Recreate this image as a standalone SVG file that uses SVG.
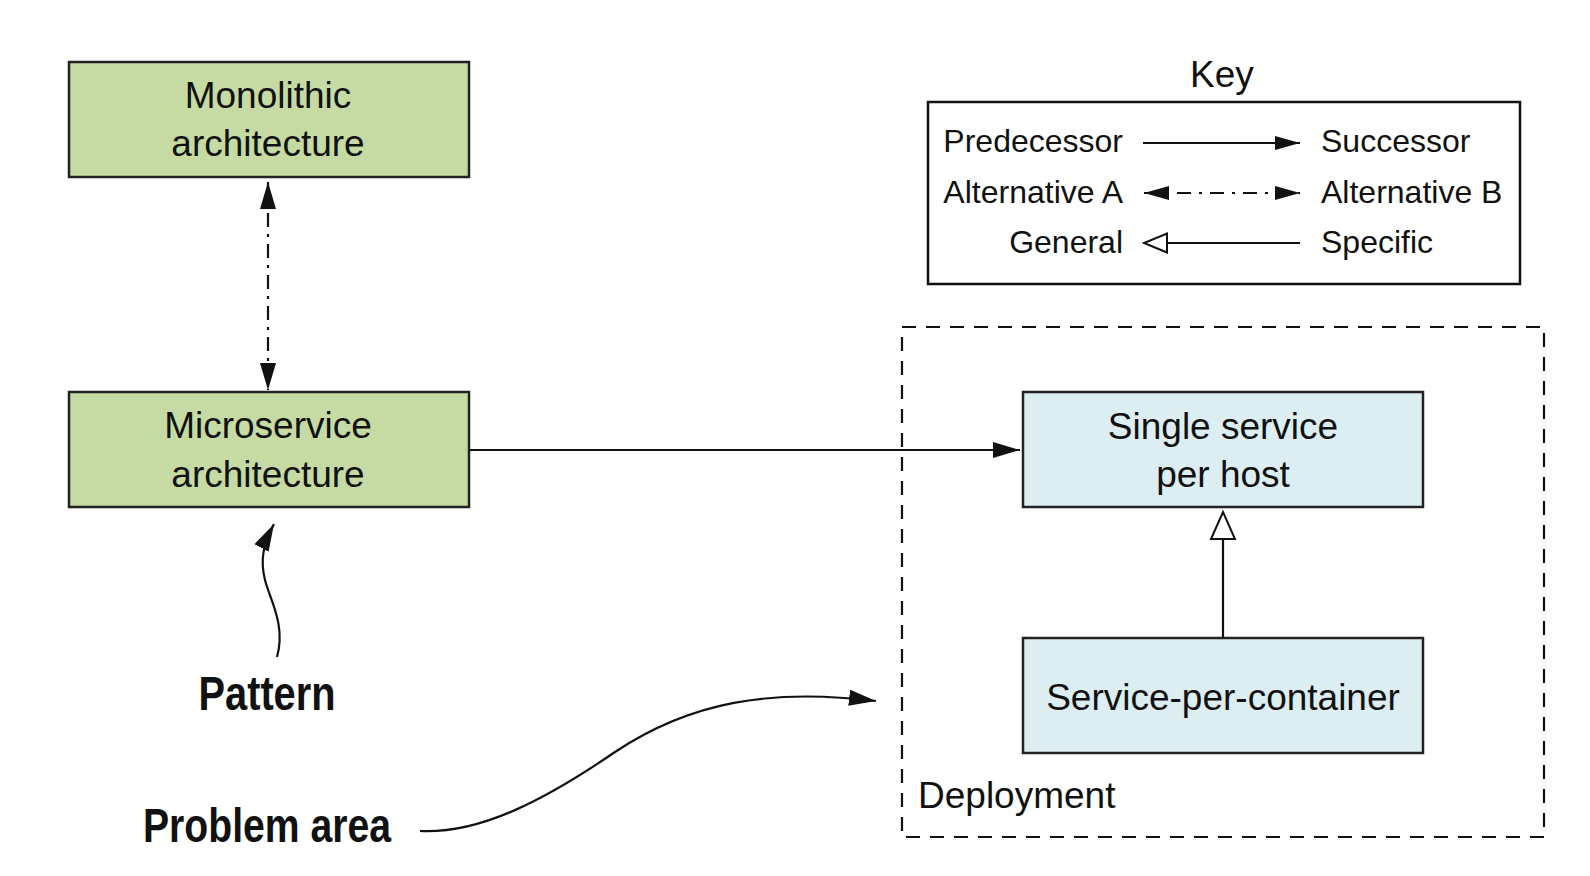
<svg xmlns="http://www.w3.org/2000/svg" width="1590" height="876" viewBox="0 0 1590 876">
<style>
.node{stroke:#222;stroke-width:2.5}
.green{fill:#c5dba3}
.blue{fill:#ddeef2}
.t{font-family:"Liberation Sans",Arial,sans-serif;font-size:37px;fill:#111;text-anchor:middle}
.k{font-family:"Liberation Sans",Arial,sans-serif;font-size:32px;fill:#111}
.lbl{font-family:"Liberation Sans",Arial,sans-serif;font-weight:bold;font-size:48px;fill:#111}
.ln{fill:none;stroke:#111;stroke-width:2.2}
.dd{stroke-dasharray:14 7 3 7}
</style>
<defs>
<marker id="fa" markerUnits="userSpaceOnUse" markerWidth="28" markerHeight="18" refX="27" refY="8" orient="auto-start-reverse" viewBox="0 0 28 16">
<path d="M0,0 L27,8 L0,16 z" fill="#111"/>
</marker>
<marker id="fs" markerUnits="userSpaceOnUse" markerWidth="26" markerHeight="16" refX="25" refY="7" orient="auto-start-reverse" viewBox="0 0 26 14">
<path d="M0,0 L25,7 L0,14 z" fill="#111"/>
</marker>
<marker id="ha" markerUnits="userSpaceOnUse" markerWidth="30" markerHeight="28" refX="28" refY="13" orient="auto" viewBox="0 0 30 26">
<path d="M1,1 L28,13 L1,25 z" fill="#fff" stroke="#111" stroke-width="2"/>
</marker>
<marker id="hs" markerUnits="userSpaceOnUse" markerWidth="26" markerHeight="22" refX="24" refY="10.5" orient="auto" viewBox="0 0 26 21">
<path d="M1,1 L24,10.5 L1,20 z" fill="#fff" stroke="#111" stroke-width="2"/>
</marker>
</defs>

<g id="key">
<text class="t" x="1222" y="87">Key</text>
<rect x="928" y="102" width="592" height="182" fill="none" stroke="#111" stroke-width="2.5"/>
<text class="k" x="1123" y="152" text-anchor="end">Predecessor</text>
<text class="k" x="1321" y="152">Successor</text>
<text class="k" x="1123" y="203" text-anchor="end">Alternative A</text>
<text class="k" x="1321" y="203">Alternative B</text>
<text class="k" x="1123" y="253" text-anchor="end">General</text>
<text class="k" x="1321" y="253">Specific</text>
<path class="ln" d="M1143,143 L1300,143" marker-end="url(#fs)"/>
<path class="ln" style="stroke-dasharray:14 8 3 8" d="M1144,193 L1300,193" marker-start="url(#fs)" marker-end="url(#fs)"/>
<path class="ln" d="M1300,243 L1144,243" marker-end="url(#hs)"/>
</g>

<g id="deployment">
<rect x="902" y="327" width="642" height="510" fill="none" stroke="#111" stroke-width="2.2" stroke-dasharray="14 10"/>
<text class="t" x="918" y="808" style="text-anchor:start">Deployment</text>
</g>

<g id="monolithic">
<rect class="node green" x="69" y="62" width="400" height="115"/>
<text class="t" x="268" y="108">Monolithic</text>
<text class="t" x="268" y="156">architecture</text>
</g>

<g id="microservice">
<rect class="node green" x="69" y="392" width="400" height="115"/>
<text class="t" x="268" y="438">Microservice</text>
<text class="t" x="268" y="487">architecture</text>
</g>

<g id="single-service">
<rect class="node blue" x="1023" y="392" width="400" height="115"/>
<text class="t" x="1223" y="439">Single service</text>
<text class="t" x="1223" y="487">per host</text>
</g>

<g id="service-per-container">
<rect class="node blue" x="1023" y="638" width="400" height="115"/>
<text class="t" x="1223" y="710">Service-per-container</text>
</g>

<g id="labels">
<text class="lbl" x="267" y="710" text-anchor="middle" textLength="137" lengthAdjust="spacingAndGlyphs">Pattern</text>
<text class="lbl" x="143" y="842" textLength="248" lengthAdjust="spacingAndGlyphs">Problem area</text>
</g>

<g id="connectors">
<path class="ln dd" d="M268,182 L268,390" marker-start="url(#fa)" marker-end="url(#fa)"/>
<path class="ln" d="M469,450 L1020,450" marker-end="url(#fa)"/>
<path class="ln" d="M1223,638 L1223,512" marker-end="url(#ha)"/>
<path class="ln" stroke-width="1.8" d="M277,657 C286,625 270,600 265,580 C260,560 263,545 274,524" marker-end="url(#fa)"/>
<path class="ln" stroke-width="1.8" d="M420,831 C480,834 545,800 615,752 C690,702 770,688 876,701" marker-end="url(#fa)"/>
</g>
</svg>
